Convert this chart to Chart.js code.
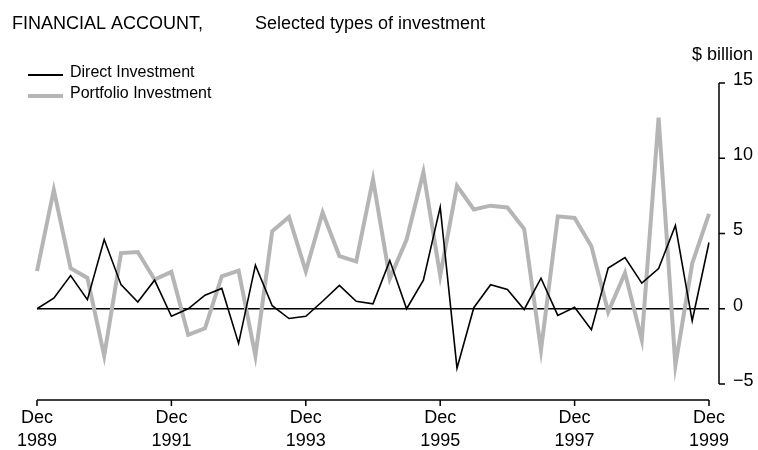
<!DOCTYPE html>
<html>
<head>
<meta charset="utf-8">
<script src="https://cdn.jsdelivr.net/npm/chart.js@4"></script>
<style>
  html, body { margin: 0; padding: 0; background: #fff; }
  #wrap { width: 758px; height: 450px; position: relative; }
</style>
</head>
<body>
<div id="wrap"><canvas id="chart"></canvas></div>
<script>
// quarterly, Dec 1989 to Dec 1999
const years = [1989, 1990, 1991, 1992, 1993, 1994, 1995, 1996, 1997, 1998, 1999];
const months = ["Mar", "Jun", "Sep", "Dec"];

const directInvestment = [
  0, 0.7, 2.2, 0.6, 4.6, 1.6, 0.45, 1.9, -0.5, 0, 0.9, 1.35, -2.3, 2.9,
  0.2, -0.65, -0.5, 0.5, 1.55, 0.5, 0.33, 3.2, 0, 1.9, 6.75, -3.95, 0.07,
  1.6, 1.28, -0.05, 2.03, -0.44, 0.1, -1.4, 2.7, 3.4, 1.7, 2.67, 5.54, -0.8, 4.4
];
const portfolioInvestment = [
  2.5, 7.9, 2.7, 2.05, -3.13, 3.7, 3.77, 1.94, 2.45, -1.74, -1.3, 2.16, 2.54, -3.13,
  5.15, 6.1, 2.5, 6.4, 3.5, 3.15, 8.6, 2.0, 4.6, 9.07, 2.2, 8.17, 6.6,
  6.85, 6.73, 5.3, -2.74, 6.14, 6.03, 4.15, -0.22, 2.38, -2.07, 12.7, -3.75, 3.0, 6.3
];

const yTicks = [-5, 0, 5, 10, 15];
const titleLeft = "FINANCIAL ACCOUNT,";
const titleRight = "Selected types of investment";
const unitLabel = "$ billion";

const quarters = ["Dec " + years[0]];
for (let y = 1; y < years.length; y++) {
  months.forEach(m => quarters.push(m + " " + years[y]));
}

const FONT = "'Liberation Sans', Arial, sans-serif";

// titles, legend and the detached axis lines
const decorations = {
  id: "decorations",
  afterDraw(chart) {
    const ctx = chart.ctx;
    const xs = chart.scales.x;
    const ys = chart.scales.y;
    ctx.save();
    ctx.fillStyle = "#000";
    ctx.textBaseline = "middle";
    ctx.font = "18px " + FONT;
    ctx.fillText(titleLeft, 12, 24);
    ctx.fillText(titleRight, 255, 24);

    ctx.fillText(unitLabel, 692, 55);

    // legend
    ctx.font = "16px " + FONT;
    chart.data.datasets.forEach((ds, i) => {
      const y = 75 + i * 21;
      ctx.strokeStyle = ds.borderColor;
      ctx.lineWidth = ds.legendWidth;
      ctx.beginPath();
      ctx.moveTo(28, y);
      ctx.lineTo(63, y);
      ctx.stroke();
      ctx.fillText(ds.label, 70, y - 2);
    });

    // y axis line with ticks to the right
    ctx.strokeStyle = "#000";
    ctx.lineWidth = 1.5;
    const ax = chart.chartArea.right + 10;
    ctx.beginPath();
    ctx.moveTo(ax, ys.getPixelForValue(yTicks[yTicks.length - 1]));
    ctx.lineTo(ax, ys.getPixelForValue(yTicks[0]));
    yTicks.forEach(v => {
      const py = ys.getPixelForValue(v);
      ctx.moveTo(ax, py);
      ctx.lineTo(ax + 6, py);
    });
    ctx.stroke();

    // x axis line with downward ticks
    const by = chart.chartArea.bottom + 16;
    ctx.beginPath();
    ctx.moveTo(xs.getPixelForValue(0), by);
    ctx.lineTo(xs.getPixelForValue(quarters.length - 1), by);
    for (let i = 0; i < quarters.length; i += 8) {
      const px = xs.getPixelForValue(i);
      ctx.moveTo(px, by);
      ctx.lineTo(px, by + 6);
    }
    ctx.stroke();
    ctx.restore();
  }
};

new Chart(document.getElementById("chart"), {
  type: "line",
  data: {
    labels: quarters,
    datasets: [
      {
        label: "Direct Investment",
        data: directInvestment,
        borderColor: "#000000",
        borderWidth: 1.6,
        legendWidth: 2,
        pointRadius: 0,
        tension: 0,
      },
      {
        label: "Portfolio Investment",
        data: portfolioInvestment,
        borderColor: "#b5b5b5",
        borderWidth: 4,
        legendWidth: 4,
        pointRadius: 0,
        tension: 0,
      },
    ],
  },
  options: {
    responsive: true,
    maintainAspectRatio: false,
    animation: false,
    layout: { padding: { left: 37, top: 83, right: 0, bottom: 0 } },
    plugins: {
      legend: { display: false },
      tooltip: { enabled: false },
    },
    scales: {
      x: {
        type: "category",
        offset: false,
        grid: { display: false },
        border: { display: false },
        afterFit(scale) {
          scale.height = 66;
          scale.paddingLeft = 0;
          scale.paddingRight = 0;
        },
        ticks: {
          autoSkip: false,
          maxRotation: 0,
          padding: 15,
          color: "#000",
          font: { family: FONT, size: 18, lineHeight: 1.25 },
          callback(value, index) {
            if (index % 8 !== 0) return null;
            return quarters[index].split(" ");
          },
        },
      },
      y: {
        position: "right",
        min: -5,
        max: 15,
        afterFit(scale) {
          scale.width = 49;
          scale.paddingTop = 0;
          scale.paddingBottom = 0;
        },
        afterBuildTicks(scale) { scale.ticks = yTicks.map(v => ({ value: v })); },
        grid: {
          drawTicks: false,
          lineWidth: 1.5,
          color: c => (c.tick && c.tick.value === 0 ? "#000" : "rgba(0,0,0,0)"),
        },
        border: { display: false },
        ticks: {
          padding: 24,
          labelOffset: -3,
          color: "#000",
          font: { family: FONT, size: 18 },
          callback: v => (v < 0 ? "\u2212" + Math.abs(v) : String(v)),
        },
      },
    },
  },
  plugins: [decorations],
});
</script>
</body>
</html>
